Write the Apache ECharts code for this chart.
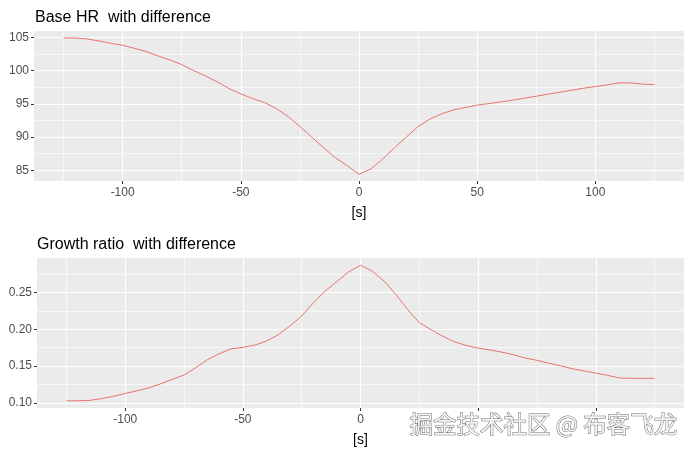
<!DOCTYPE html>
<html><head><meta charset="utf-8">
<script src="https://cdn.jsdelivr.net/npm/echarts@6/dist/echarts.min.js"></script>
<style>html,body{margin:0;padding:0;background:#fff}#c{width:692px;height:454px}</style>
</head><body><div id="c"></div>
<script>
const times = [-125,-120,-115,-110,-105,-100,-95,-90,-85,-80,-75,-70,-65,-60,-55,-50,-45,-40,-35,-30,-25,-20,-15,-10,-5,0,5,10,15,20,25,30,35,40,45,50,55,60,65,70,75,80,85,90,95,100,105,110,115,120,125];
const baseHR = [104.9,104.9,104.75,104.45,104.1,103.8,103.35,102.85,102.2,101.6,100.9,100.0,99.2,98.3,97.3,96.5,95.8,95.2,94.3,93.1,91.6,90.0,88.4,86.9,85.7,84.4,85.2,86.7,88.4,90.0,91.6,92.7,93.5,94.1,94.45,94.8,95.05,95.3,95.55,95.85,96.15,96.45,96.75,97.05,97.35,97.6,97.85,98.15,98.15,97.95,97.9];
const growthRatio = [0.103,0.103,0.1035,0.106,0.109,0.113,0.1165,0.1205,0.126,0.132,0.138,0.148,0.159,0.167,0.1735,0.1755,0.1785,0.184,0.1925,0.2045,0.218,0.236,0.252,0.265,0.278,0.287,0.279,0.2655,0.2475,0.227,0.209,0.1995,0.1905,0.183,0.178,0.1745,0.172,0.169,0.1655,0.161,0.158,0.154,0.1505,0.1465,0.1435,0.1405,0.1375,0.134,0.1335,0.1335,0.1335];
const xMajorTicks = [-100,-50,0,50,100];
const xMinorTicks = [-125,-75,-25,25,75,125];
const hrMajorTicks = [85,90,95,100,105];
const hrMinorTicks = [87.5,92.5,97.5,102.5];
const grMajorTicks = [0.10,0.15,0.20,0.25];
const grMinorTicks = [0.125,0.175,0.225,0.275];
const titles = ['Base HR  with difference','Growth ratio  with difference'];
const xName = '[s]';
const watermark = '掘金技术社区 @ 布客飞龙';

const FONT = '"Liberation Sans", Arial, sans-serif';
const chart = echarts.init(document.getElementById('c'), null, {renderer:'canvas'});

function majorAxis(gridIndex, ticks, min, max, isX, fmt) {
  return {
    type:'value', gridIndex, min, max,
    axisLine:{show:false, onZero:false},
    axisTick:{show:true, length:3, customValues:ticks, lineStyle:{color:'#333333', width:1}},
    axisLabel:{show:true, customValues:ticks, color:'#4D4D4D', fontSize:12, fontFamily:FONT, margin:isX?6:5,
      formatter: fmt || (v=>String(v))},
    splitLine:{show:true, lineStyle:{color:'#ffffff', width:1.2}},
    name: isX ? xName : '', nameLocation:'middle', nameGap:25,
    nameTextStyle:{color:'#000', fontSize:14, fontFamily:FONT}
  };
}
function minorAxis(gridIndex, ticks, min, max) {
  return {
    type:'value', gridIndex, min, max,
    axisLine:{show:false, onZero:false},
    axisTick:{show:false, customValues:ticks},
    axisLabel:{show:false, customValues:ticks},
    splitLine:{show:true, lineStyle:{color:'#ffffff', width:0.6}}
  };
}

const hrMin = 83.4, hrMax = 105.95, grMin = 0.0932, grMax = 0.2968, xMin = -137.5, xMax = 137.5;

const option = {
  animation:false,
  backgroundColor:'#ffffff',
  title:[
    {text:titles[0], left:35, top:10, padding:0, textStyle:{color:'#000', fontSize:16, fontWeight:'normal', fontFamily:FONT}},
    {text:titles[1], left:37, top:237, padding:0, textStyle:{color:'#000', fontSize:16, fontWeight:'normal', fontFamily:FONT}}
  ],
  grid:[
    {left:34, top:31, width:650, height:150, show:true, backgroundColor:'#EBEBEB', borderWidth:0, containLabel:false, outerBoundsMode:'none'},
    {left:37, top:258, width:647, height:150, show:true, backgroundColor:'#EBEBEB', borderWidth:0, containLabel:false, outerBoundsMode:'none'}
  ],
  xAxis:[
    majorAxis(0, xMajorTicks, xMin, xMax, true),
    minorAxis(0, xMinorTicks, xMin, xMax),
    majorAxis(1, xMajorTicks, xMin, xMax, true),
    minorAxis(1, xMinorTicks, xMin, xMax)
  ],
  yAxis:[
    majorAxis(0, hrMajorTicks, hrMin, hrMax, false),
    minorAxis(0, hrMinorTicks, hrMin, hrMax),
    majorAxis(1, grMajorTicks, grMin, grMax, false, v=>v.toFixed(2)),
    minorAxis(1, grMinorTicks, grMin, grMax)
  ],
  series:[
    {type:'line', xAxisIndex:0, yAxisIndex:0, data:times.map((t,i)=>[t,baseHR[i]]),
     showSymbol:false, lineStyle:{color:'#E8746C', width:1}, z:5},
    {type:'line', xAxisIndex:2, yAxisIndex:2, data:times.map((t,i)=>[t,growthRatio[i]]),
     showSymbol:false, lineStyle:{color:'#E8746C', width:1}, z:5}
  ],
  graphic:[
    {type:'rect', left:404, top:413, z:99, shape:{width:280, height:30}, style:{fill:'#ffffff'}},
    {type:'text', left:409, top:412, z:100,
     style:{text:watermark, fill:'#f4f4f4', stroke:'#6e6e6e', lineWidth:1,
       font:'23.5px "Noto Sans CJK SC", sans-serif',
       shadowColor:'rgba(0,0,0,0.35)', shadowBlur:1, shadowOffsetX:1, shadowOffsetY:1}}
  ]
};
chart.setOption(option);
</script></body></html>
